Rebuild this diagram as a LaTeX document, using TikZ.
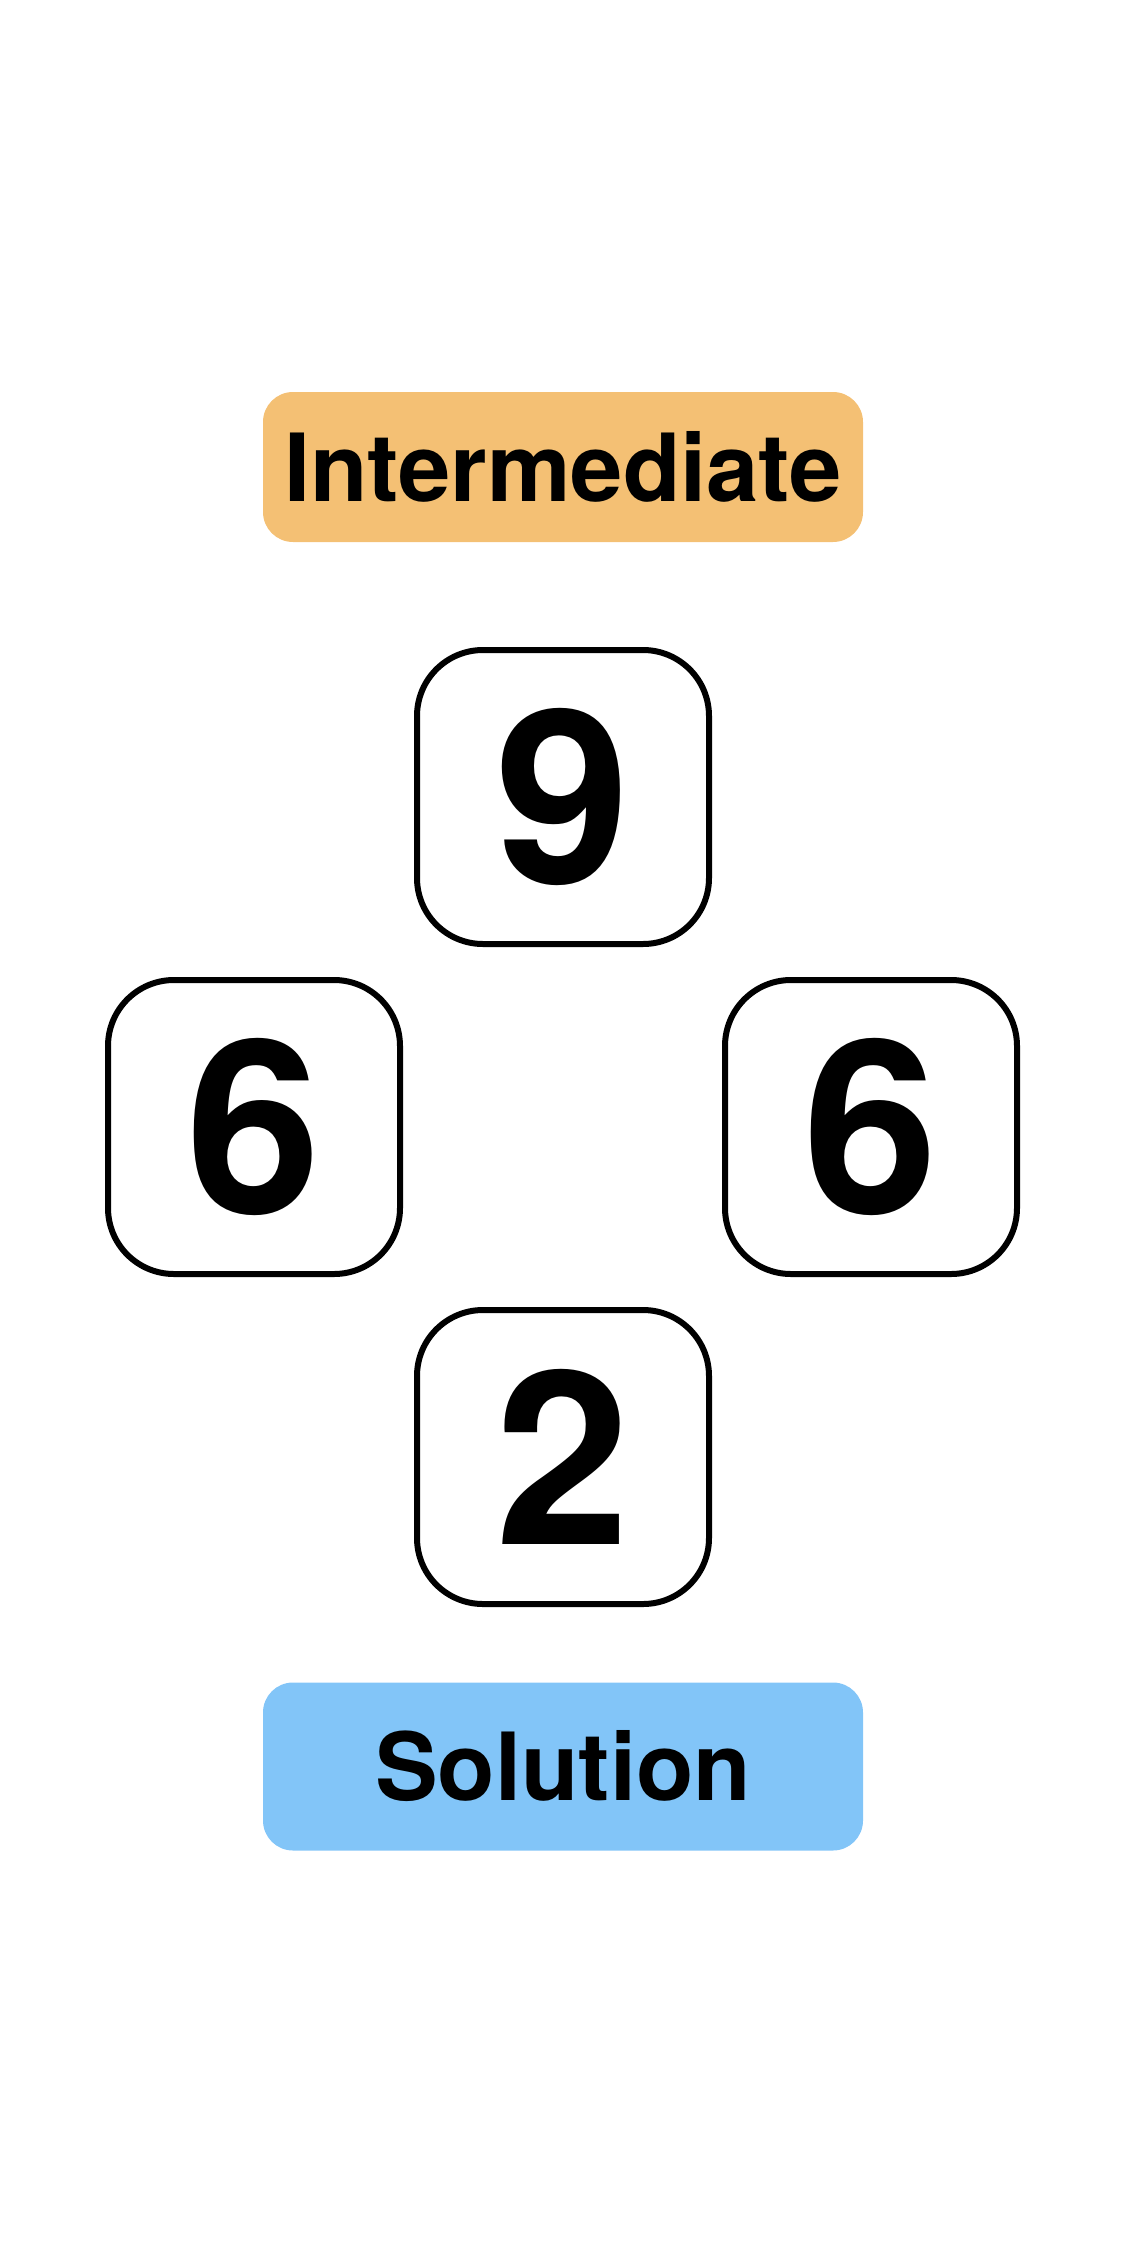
\documentclass[tikz,border=0pt]{standalone}
\usepackage{fontspec}
\setmainfont{TeX Gyre Heros}
\definecolor{interm}{HTML}{F4C074}
\definecolor{soln}{HTML}{82C5F8}

\begin{document}
\begin{tikzpicture}[node distance=165pt,auto]

\tikzstyle{card}=[rectangle,draw=black,line width=3pt,rounded corners=33pt,minimum width=146pt,minimum height=147pt,inner sep=0pt,font=\fontsize{121}{121}\selectfont\bfseries]
\tikzstyle{banner}=[rectangle,rounded corners=15pt,minimum width=300pt,minimum height=75pt,inner sep=0pt,font=\fontsize{47}{47}\selectfont\bfseries]

\useasboundingbox (0,0) rectangle (562.5pt,-1126.5pt);

\node[banner,fill=interm](I) at (281.5pt,-233.5pt){Intermediate};

\node[card](N)[below of=I]{9};

\node[card](L)[below of=N,xshift=-154.5pt]{6};

\node[card](R)[below of=N,xshift=154pt]{6};

\node[card](T)[below of=N,node distance=330pt]{2};

\node[banner,fill=soln,minimum height=84pt](S)[below of=T,node distance=154.75pt]{Solution};

\end{tikzpicture}
\end{document}
